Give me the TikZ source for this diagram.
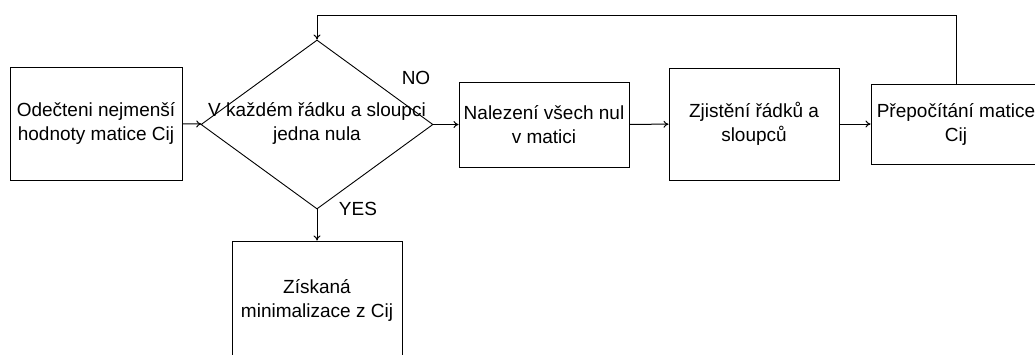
\documentclass[tikz,border=0pt]{standalone}
\usepackage{fontspec}
\setmainfont{Liberation Sans}
\usetikzlibrary{positioning, arrows.meta, shapes.geometric}
\tikzset{
  % Flow chart of the reduction steps
  procbox/.style  = { draw, line width=1pt, minimum width=170pt, align=center,
                       inner sep=0pt, font=\fontsize{19}{24}\selectfont },
  decision/.style = { draw, line width=0.9pt, diamond, minimum width=232pt,
                       minimum height=169pt, inner sep=0pt },
  dectext/.style  = { align=center, inner sep=0pt, font=\fontsize{19}{24}\selectfont },
  flow/.style     = { line width=1pt, -{To[length=5pt, width=7pt]} },
  branchlabel/.style = { font=\fontsize{19}{24}\selectfont, inner sep=0pt }
}

\begin{document}
\begin{tikzpicture}[x=1pt, y=-1pt]
  \useasboundingbox (0,0) rectangle (1035,354);

  % --- step boxes (positions in the page grid) ----------------------
  \node[procbox, minimum width=172pt, minimum height=113pt] (subtract) at (96,123.5)
    {Odečteni nejmenší\\hodnoty matice Cij};
  \node[decision] (check) at (317,124.5) {};
  \node[dectext] (checktext) at (317,123) {V každém řádku a sloupci\\jedna nula};
  \node[procbox, minimum height=85pt] (zeros) at (544,124.5)
    {Nalezení všech nul\\v matici};
  \node[procbox, minimum height=112pt] (lines) at (754,124)
    {Zjistění řádků a\\sloupců};
  \node[procbox, minimum height=80pt] (recalc) at (956,124)
    {Přepočítání matice\\Cij};
  \node[procbox, minimum height=119pt] (result) at (317,300.5)
    {Získaná\\minimalizace z Cij};

  % --- connectors ---------------------------------------------------
  \draw[flow] (subtract) -- (check);
  \draw[flow] (check.east) -- (zeros.west);
  \draw[flow] (zeros) -- (lines);
  \draw[flow] (lines) -- (recalc);
  \draw[flow] (check.south) -- (result.north);
  \draw[flow] (recalc.north) -- ++(0,-68) -| (check.north);

  \node[branchlabel] (no)  at (416,78)  {NO};
  \node[branchlabel] (yes) at (358,209) {YES};

\end{tikzpicture}
\end{document}
